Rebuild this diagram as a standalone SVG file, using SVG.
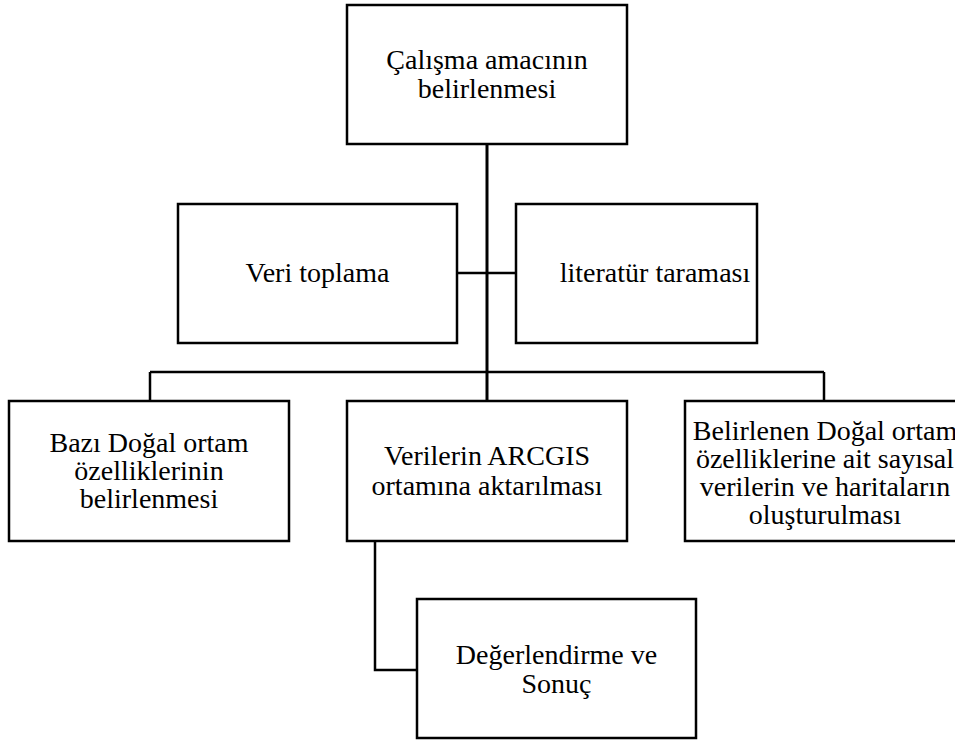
<svg xmlns="http://www.w3.org/2000/svg" width="955" height="740" viewBox="0 0 955 740">
<style>
.box{fill:#fff;stroke:#000;stroke-width:2.5}
.t{font-family:'Liberation Serif','Tinos','Times New Roman','DejaVu Serif',serif;font-size:28px;fill:#000;text-anchor:middle}
.c{fill:none;stroke:#000;stroke-width:2.5}
</style>
<rect width="955" height="740" fill="#fff"/>
<g id="connectors">
<line class="c" x1="487" y1="144" x2="487" y2="401" style="stroke-width:3"/>
<line class="c" x1="457" y1="273" x2="516" y2="273"/>
<line class="c" x1="150" y1="372" x2="824" y2="372"/>
<line class="c" x1="150" y1="372" x2="150" y2="401"/>
<line class="c" x1="824" y1="372" x2="824" y2="401"/>
<polyline class="c" points="375,541 375,670 417,670"/>
</g>
<g id="n1">
<rect class="box" x="347" y="5" width="280" height="139"/>
<text class="t" x="487" y="69">Çalışma amacının</text>
<text class="t" x="487" y="98">belirlenmesi</text>
</g>
<g id="n2">
<rect class="box" x="178" y="204" width="279" height="139"/>
<text class="t" x="317.5" y="282">Veri toplama</text>
</g>
<g id="n3">
<rect class="box" x="516" y="204" width="241" height="139"/>
<text class="t" x="655" y="282">literatür taraması</text>
</g>
<g id="n4">
<rect class="box" x="9" y="401" width="280" height="140"/>
<text class="t" x="149" y="452">Bazı Doğal ortam</text>
<text class="t" x="149" y="480">özelliklerinin</text>
<text class="t" x="149" y="508">belirlenmesi</text>
</g>
<g id="n5">
<rect class="box" x="347" y="401" width="280" height="140"/>
<text class="t" x="487" y="465">Verilerin ARCGIS</text>
<text class="t" x="487" y="495">ortamına aktarılması</text>
</g>
<g id="n6">
<rect class="box" x="685" y="401" width="280" height="140"/>
<text class="t" x="825" y="440">Belirlenen Doğal ortam</text>
<text class="t" x="825" y="468">özelliklerine ait sayısal</text>
<text class="t" x="825" y="496">verilerin ve haritaların</text>
<text class="t" x="825" y="524">oluşturulması</text>
</g>
<g id="n7">
<rect class="box" x="417" y="599" width="279" height="139"/>
<text class="t" x="556.5" y="664">Değerlendirme ve</text>
<text class="t" x="556.5" y="693">Sonuç</text>
</g>
</svg>
